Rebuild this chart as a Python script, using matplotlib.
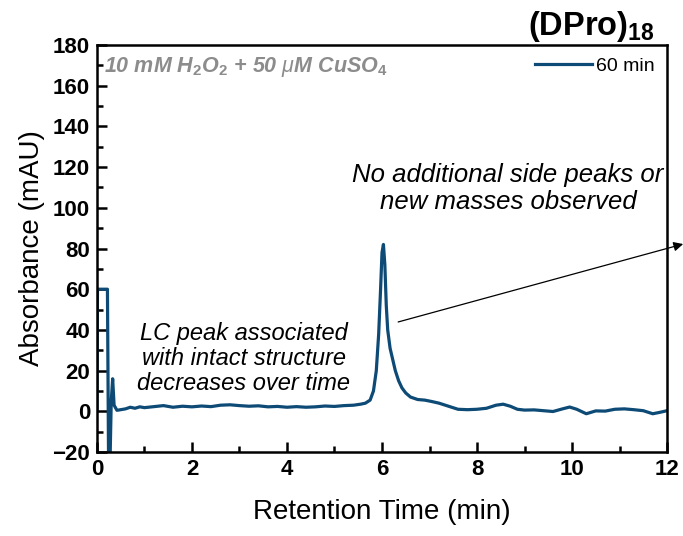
import matplotlib
matplotlib.use("Agg")
import matplotlib.pyplot as plt
from matplotlib.ticker import MultipleLocator

plt.rcParams['font.family'] = ['Liberation Sans', 'DejaVu Sans']
plt.rcParams['mathtext.fontset'] = 'custom'
plt.rcParams['mathtext.rm'] = 'Liberation Sans'
plt.rcParams['mathtext.it'] = 'Liberation Sans:italic'
plt.rcParams['mathtext.bf'] = 'Liberation Sans:bold'

# ---- data ----
time_min = [0.0, 0.01, 0.22, 0.245, 0.27, 0.3, 0.33, 0.36, 0.42, 0.5, 0.6, 0.7, 0.8, 0.9,
            1.0, 1.2, 1.4, 1.6, 1.8, 2.0, 2.2, 2.4, 2.6, 2.8, 3.0, 3.2, 3.4, 3.6, 3.8,
            4.0, 4.2, 4.4, 4.6, 4.8, 5.0, 5.2, 5.4, 5.55, 5.65, 5.75, 5.82, 5.88, 5.93,
            5.97, 6.0, 6.03, 6.06, 6.09, 6.12, 6.17, 6.22, 6.28, 6.35, 6.42, 6.5, 6.6,
            6.75, 6.9, 7.05, 7.2, 7.4, 7.6, 7.8, 8.0, 8.2, 8.4, 8.55, 8.7, 8.85, 9.0,
            9.2, 9.4, 9.6, 9.8, 9.95, 10.1, 10.3, 10.5, 10.7, 10.9, 11.1, 11.3, 11.5,
            11.7, 11.85, 12.0]
absorbance_60min = [1.0, 60, 60, -30, -30, 5, 16, 3, 0.5, 0.8, 1.2, 2.0, 1.5, 2.2,
                    1.8, 2.3, 2.8, 2.0, 2.5, 2.2, 2.6, 2.3, 3.0, 3.2, 2.8, 2.5, 2.7, 2.2, 2.4,
                    2.0, 2.3, 2.0, 2.2, 2.6, 2.4, 2.8, 3.0, 3.5, 4.0, 5.5, 10, 20, 38,
                    60, 78, 82, 72, 52, 40, 31, 26, 20, 15, 11.5, 9, 7,
                    5.8, 5.5, 4.8, 4.0, 2.5, 1.0, 0.8, 1.0, 1.5, 3.0, 3.5, 2.5, 1.0, 0.6,
                    0.7, 0.3, -0.1, 1.2, 2.1, 1.0, -1.2, 0.2, 0.1, 1.0, 1.2, 0.8, 0.3,
                    -1.2, -0.5, 0.3]
series_label = "60 min"
x_ticks = [0, 2, 4, 6, 8, 10, 12]
y_ticks = [-20, 0, 20, 40, 60, 80, 100, 120, 140, 160, 180]

line_color = '#0d4a75'

fig = plt.figure(figsize=(6.83, 5.36), dpi=100)
ax = fig.add_axes([0.142, 0.1567, 0.8346, 0.7593])

ax.plot(time_min, absorbance_60min, color=line_color, lw=2.3, label=series_label)

ax.set_xlim(0, 12)
ax.set_ylim(-20, 180)
ax.set_xticks(x_ticks)
ax.set_yticks(y_ticks)
ax.xaxis.set_minor_locator(MultipleLocator(1))
ax.yaxis.set_minor_locator(MultipleLocator(10))
ax.tick_params(which='both', direction='in', top=False, right=False, width=1.8)
ax.tick_params(which='major', length=7, labelsize=16, pad=5)
ax.tick_params(which='minor', length=4)
for lab in ax.get_xticklabels() + ax.get_yticklabels():
    lab.set_fontweight('bold')
for sp in ax.spines.values():
    sp.set_linewidth(1.8)

ax.set_xlabel('Retention Time (min)', fontsize=20, labelpad=14)
ax.set_ylabel('Absorbance (mAU)', fontsize=20, labelpad=5)

leg = ax.legend(loc='upper right', frameon=False, fontsize=14, handlelength=2.9,
                borderaxespad=0.25, handletextpad=0.2)

ax.text(0.012, 0.975, r'10 mM H$_\mathbf{2}$O$_\mathbf{2}$ + 50 $\mu$M CuSO$_\mathbf{4}$',
        transform=ax.transAxes, ha='left', va='top', fontsize=15.5,
        fontweight='bold', fontstyle='italic', color='#8c8c8c')

ax.text(8.65, 109.5, 'No additional side peaks or\nnew masses observed',
        ha='center', va='center', fontsize=18.5, fontstyle='italic', linespacing=1.15)
ax.text(3.09, 26.0, 'LC peak associated\nwith intact structure\ndecreases over time',
        ha='center', va='center', fontsize=17, fontstyle='italic', linespacing=1.1)

ax.annotate('', xy=(12.34, 82.2), xytext=(6.34, 43.9), xycoords='data',
            textcoords='data', annotation_clip=False,
            arrowprops=dict(arrowstyle='-|>', color='black', lw=0.9,
                            mutation_scale=14, shrinkA=0, shrinkB=0))

fig.text(0.958, 0.935, r'(DPro)$_\mathbf{18}$', ha='right', va='baseline',
         fontsize=23.5, fontweight='bold')

fig.savefig('out.png', dpi=100)
